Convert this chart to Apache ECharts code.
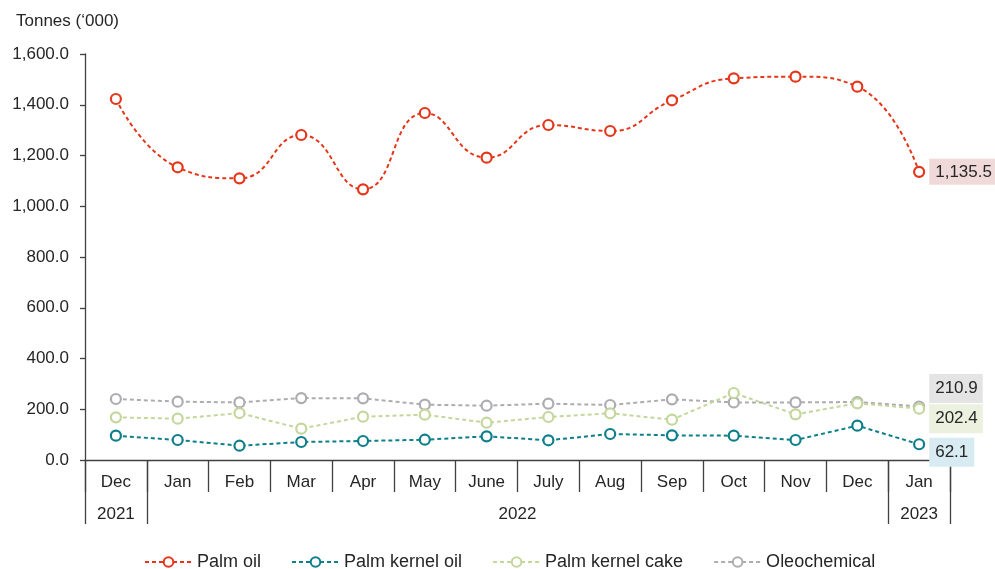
<!DOCTYPE html>
<html>
<head>
<meta charset="utf-8">
<script src="https://cdn.jsdelivr.net/npm/echarts@6/dist/echarts.min.js"></script>
<style>
  html, body { margin: 0; padding: 0; background: #ffffff; }
  #chart { width: 995px; height: 569px; }
</style>
</head>
<body>
<div id="chart"></div>
<script>
// Monthly exports, tonnes ('000), Dec 2021 – Jan 2023
const months = ['Dec', 'Jan', 'Feb', 'Mar', 'Apr', 'May', 'June', 'July', 'Aug', 'Sep', 'Oct', 'Nov', 'Dec', 'Jan'];
const years = ['2021', '2022', '2023'];
const yearSpans = [[0, 1], [1, 13], [13, 14]]; // category index ranges covered by each year

const palmOil = [1422.7, 1153.5, 1110.0, 1280.8, 1066.6, 1367.5, 1191.5, 1320.2, 1296.6, 1417.5, 1504.0, 1510.7, 1471.3, 1135.5];
const palmKernelOil = [95.9, 78.8, 56.4, 71.0, 74.9, 80.0, 93.3, 77.6, 102.5, 97.2, 95.9, 78.8, 135.3, 62.1];
const palmKernelCake = [168.0, 163.0, 185.0, 123.5, 170.7, 178.6, 147.0, 169.5, 184.0, 159.0, 264.0, 180.0, 223.4, 202.4];
const oleochemical = [240.4, 229.9, 227.0, 244.0, 243.0, 218.0, 214.0, 222.0, 216.7, 239.0, 227.0, 227.0, 228.6, 210.9];

const yTicks = [0, 200, 400, 600, 800, 1000, 1200, 1400, 1600];

const FONT = '"Liberation Sans", Arial, sans-serif';
const TEXT = '#262626';
const AXIS = '#404040';

const fmt = v => Number(v).toLocaleString('en-US', { minimumFractionDigits: 1, maximumFractionDigits: 1 });

// Only the latest month carries a boxed value label
function withEndLabel(data, labelBg, dy, pad) {
  return data.map((v, i) => i === data.length - 1
    ? {
        value: v,
        label: {
          show: true,
          position: 'right',
          distance: 4,
          offset: [0, dy],
          fontFamily: FONT,
          fontSize: 17,
          color: TEXT,
          backgroundColor: labelBg,
          padding: pad,
          formatter: p => fmt(p.value)
        }
      }
    : v);
}

function makeSeries(name, data, color, labelBg, dy, pad, smooth, z) {
  return {
    name: name,
    type: 'line',
    data: withEndLabel(data, labelBg, dy, pad),
    smooth: smooth,
    symbol: 'circle',
    symbolSize: 10,
    z: z,
    lineStyle: { color: color, width: 2, type: [4, 3] },
    itemStyle: { color: '#ffffff', borderColor: color, borderWidth: 2.2 },
    label: { show: false },
    emphasis: { disabled: true }
  };
}

const chart = echarts.init(document.getElementById('chart'), null, { renderer: 'canvas' });

chart.setOption({
  backgroundColor: '#ffffff',
  animation: false,
  textStyle: { fontFamily: FONT },
  title: {
    text: 'Tonnes (‘000)',
    left: 11,
    top: 8,
    textStyle: { fontFamily: FONT, fontSize: 17, fontWeight: 'normal', color: TEXT }
  },
  grid: { left: 85, right: 45, top: 54, bottom: 109, containLabel: false },
  legend: {
    top: 548,
    left: 139,
    itemWidth: 47,
    itemHeight: 12,
    itemGap: 30,
    textStyle: { fontFamily: FONT, fontSize: 18, color: TEXT },
    data: ['Palm oil', 'Palm kernel oil', 'Palm kernel cake', 'Oleochemical']
  },
  xAxis: [
    {
      type: 'category',
      data: months,
      boundaryGap: true,
      axisLine: { show: true, lineStyle: { color: AXIS, width: 1.3 } },
      axisTick: { show: true, interval: 0, length: 32, lineStyle: { color: AXIS, width: 1.3 } },
      axisLabel: { interval: 0, margin: 14, fontFamily: FONT, fontSize: 17, color: TEXT },
      splitLine: { show: false }
    },
    {
      type: 'value',
      min: 0,
      max: months.length,
      position: 'bottom',
      axisLine: { show: false },
      axisTick: {
        show: true,
        length: 64,
        customValues: Array.from(new Set(yearSpans.flat())),
        lineStyle: { color: AXIS, width: 1.3 }
      },
      axisLabel: {
        margin: 46,
        fontFamily: FONT,
        fontSize: 17,
        color: TEXT,
        customValues: yearSpans.map(s => (s[0] + s[1]) / 2),
        formatter: v => {
          const i = yearSpans.findIndex(s => (s[0] + s[1]) / 2 === v);
          return i >= 0 ? years[i] : '';
        }
      },
      splitLine: { show: false }
    }
  ],
  yAxis: {
    type: 'value',
    min: yTicks[0],
    max: yTicks[yTicks.length - 1],
    interval: yTicks[1] - yTicks[0],
    axisLine: { show: true, lineStyle: { color: AXIS, width: 1.3 } },
    axisTick: { show: true, length: 5, lineStyle: { color: AXIS, width: 1.3 } },
    axisLabel: { margin: 16, fontFamily: FONT, fontSize: 17, color: TEXT, formatter: fmt },
    splitLine: { show: false }
  },
  series: [
    makeSeries('Palm oil', palmOil, '#E5361A', '#F0DAD9', 0, [5, 5, 4, 6], true, 6),
    makeSeries('Palm kernel oil', palmKernelOil, '#0C7F8B', '#D8EBF2', 8, [6, 6, 6, 6], false, 5),
    makeSeries('Palm kernel cake', palmKernelCake, '#C3D79C', '#EBF0DF', 10, [6, 5, 6, 6], false, 4),
    makeSeries('Oleochemical', oleochemical, '#AEACB1', '#E4E4E4', -18, [6, 5, 6, 6], false, 3)
  ]
});
</script>
</body>
</html>
